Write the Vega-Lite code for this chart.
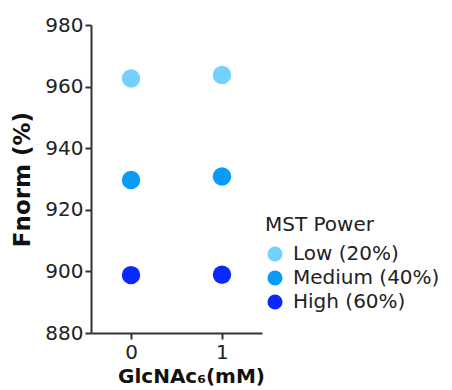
{
  "$schema": "https://vega.github.io/schema/vega-lite/v6.json",
  "width": 171,
  "height": 308,
  "autosize": {"type": "none"},
  "padding": {"left": 91, "top": 25, "right": 190, "bottom": 57},
  "background": "white",
  "data": {
    "values": [
      {"conc": 0, "fnorm": 962.6, "power": "Low (20%)"},
      {"conc": 1, "fnorm": 963.8, "power": "Low (20%)"},
      {"conc": 0, "fnorm": 929.7, "power": "Medium (40%)"},
      {"conc": 1, "fnorm": 930.8, "power": "Medium (40%)"},
      {"conc": 0, "fnorm": 898.8, "power": "High (60%)"},
      {"conc": 1, "fnorm": 898.9, "power": "High (60%)"}
    ]
  },
  "mark": {"type": "circle", "opacity": 1, "size": 340},
  "encoding": {
    "x": {
      "field": "conc",
      "type": "quantitative",
      "scale": {"domain": [-0.44, 1.44], "nice": false, "zero": false},
      "axis": {
        "values": [0, 1],
        "title": "GlcNAc₆(mM)",
        "titleX": 100,
        "titleY": 33,
        "titleFontSize": 20
      }
    },
    "y": {
      "field": "fnorm",
      "type": "quantitative",
      "scale": {"domain": [880, 980], "nice": false, "zero": false},
      "axis": {
        "values": [880, 900, 920, 940, 960, 980],
        "title": "Fnorm (%)",
        "titleX": -57,
        "titleY": 154,
        "titleFontSize": 23
      }
    },
    "color": {
      "field": "power",
      "type": "nominal",
      "scale": {
        "domain": ["Low (20%)", "Medium (40%)", "High (60%)"],
        "range": ["#72D1FF", "#0A9BF8", "#0A28FF"]
      },
      "legend": {
        "title": "MST Power",
        "orient": "none",
        "legendX": 174,
        "legendY": 190,
        "symbolType": "circle",
        "symbolSize": 227,
        "symbolOpacity": 1,
        "symbolStrokeWidth": 0,
        "titleFont": "DejaVu Sans",
        "titleFontWeight": "normal",
        "titleFontSize": 20,
        "titleColor": "#222",
        "titlePadding": 9,
        "labelFont": "DejaVu Sans",
        "labelFontSize": 20,
        "labelColor": "#222",
        "labelOffset": 8,
        "rowPadding": 4,
        "labelLimit": 300
      }
    }
  },
  "config": {
    "view": {"stroke": null},
    "axis": {
      "grid": false,
      "domainColor": "#333",
      "domainWidth": 2,
      "tickColor": "#333",
      "tickWidth": 2,
      "tickSize": 6,
      "labelFont": "DejaVu Sans",
      "labelFontSize": 20,
      "labelColor": "#222",
      "labelPadding": 2,
      "titleFont": "DejaVu Sans",
      "titleFontWeight": "bold",
      "titleColor": "#111"
    },
    "axisX": {"labelPadding": 3}
  }
}
